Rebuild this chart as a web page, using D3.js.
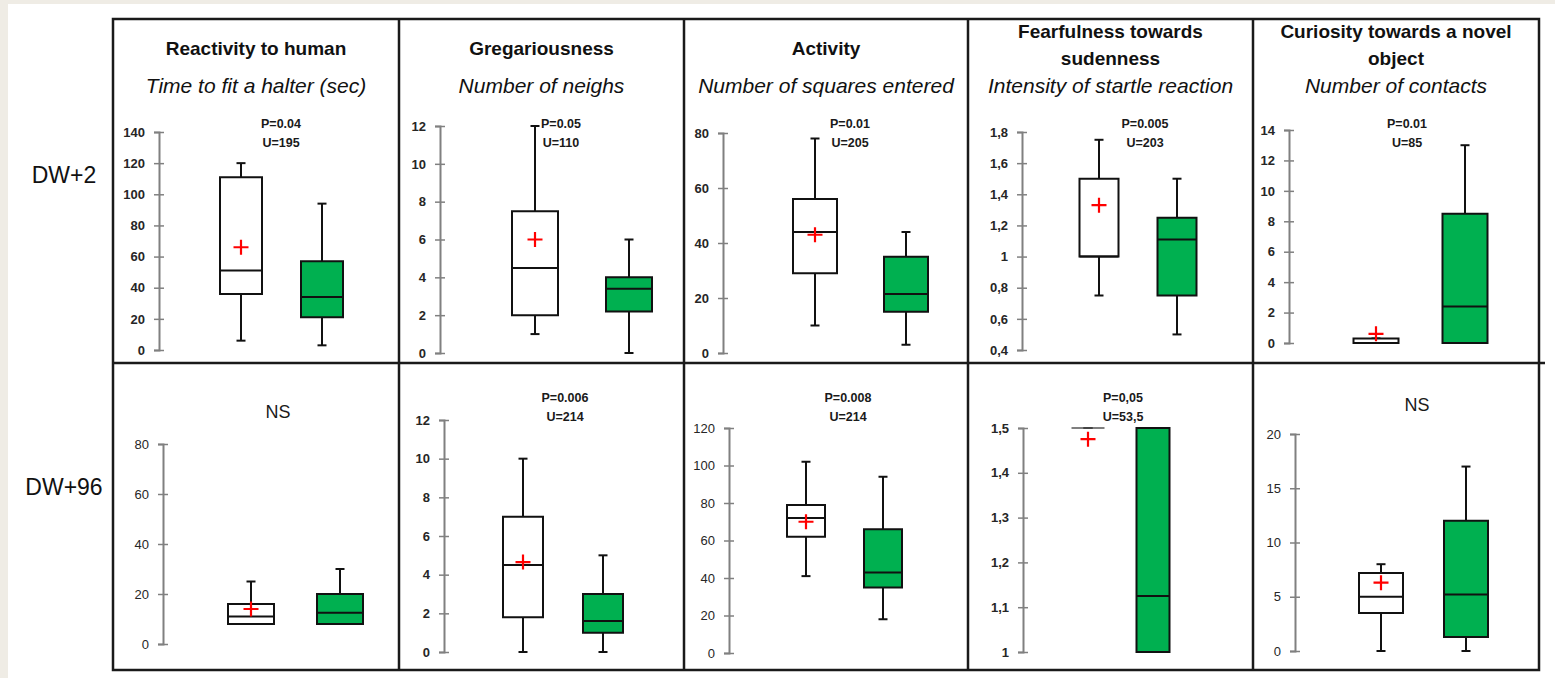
<!DOCTYPE html>
<html>
<head>
<meta charset="utf-8">
<script src="https://cdn.jsdelivr.net/npm/d3@7/dist/d3.min.js"></script>
<style>
  body { margin: 0; background: #efece5; }
  svg { display: block; }
</style>
</head>
<body>
<svg id="chart" width="1555" height="678"></svg>
<script>
// ---- data ----
var rowLabels = ["DW+2", "DW+96"];
var titleLines = [
    ["Reactivity to human"]
    , ["Gregariousness"]
    , ["Activity"]
    , ["Fearfulness towards", "sudenness"]
    , ["Curiosity towards a novel", "object"]
];
var measures = ["Time to fit a halter (sec)", "Number of neighs", "Number of squares entered"
    , "Intensity of startle reaction", "Number of contacts"];

var testsDW2 = [["P=0.04", "U=195"], ["P=0.05", "U=110"], ["P=0.01", "U=205"], ["P=0.005", "U=203"], ["P=0.01", "U=85"]];
var testsDW96 = [["NS"], ["P=0.006", "U=214"], ["P=0.008", "U=214"], ["P=0,05", "U=53,5"], ["NS"]];

var ticksDW2 = [
    [0, 20, 40, 60, 80, 100, 120, 140]
    , [0, 2, 4, 6, 8, 10, 12]
    , [0, 20, 40, 60, 80]
    , [0.4, 0.6, 0.8, 1, 1.2, 1.4, 1.6, 1.8]
    , [0, 2, 4, 6, 8, 10, 12, 14]
];
var ticksDW96 = [
    [0, 20, 40, 60, 80]
    , [0, 2, 4, 6, 8, 10, 12]
    , [0, 20, 40, 60, 80, 100, 120]
    , [1, 1.1, 1.2, 1.3, 1.4, 1.5]
    , [0, 5, 10, 15, 20]
];

// [min, q1, median, q3, max, mean]
var controlDW2 = [
    [6, 36, 51, 111, 120, 66]
    , [1, 2, 4.5, 7.5, 12, 6]
    , [10, 29, 44, 56, 78, 43]
    , [0.75, 1, 1, 1.5, 1.75, 1.33]
    , [0, 0, 0, 0.3, 0.3, 0.6]
];
// [min, q1, median, q3, max]
var treatedDW2 = [
    [3, 21, 34, 57, 94]
    , [0, 2.2, 3.4, 4, 6]
    , [3, 15, 21.5, 35, 44]
    , [0.5, 0.75, 1.11, 1.25, 1.5]
    , [0, 0, 2.4, 8.5, 13]
];
var controlDW96 = [
    [8, 8, 11, 16, 25, 14]
    , [0, 1.8, 4.5, 7, 10, 4.65]
    , [41, 62, 72, 79, 102, 70]
    , [1.5, 1.5, 1.5, 1.5, 1.5, 1.475]
    , [0, 3.5, 5, 7.2, 8, 6.3]
];
var treatedDW96 = [
    [8, 8, 12.5, 20, 30]
    , [0, 1, 1.6, 3, 5]
    , [18, 35, 43, 66, 94]
    , [1, 1, 1.125, 1.5, 1.5]
    , [0, 1.3, 5.2, 12, 17]
];

// ---- layout (pixels) ----
var colX = [113, 399, 684, 968, 1253, 1539];
var rowY = [19, 363, 670];
// axis / box centres / test text are offsets from the panel's left edge
var layoutDW2 = [
    {axis: 46, c: [128, 209], w: 42, y: [132, 350], tx: 168, ty: [123, 142], bold: true}
    , {axis: 41, c: [136, 230], w: 46, y: [126, 353], tx: 162, ty: [123, 142], bold: true}
    , {axis: 39, c: [131, 222], w: 44, y: [133, 353], tx: 166, ty: [123, 142], bold: true}
    , {axis: 54, c: [131, 209], w: 39, y: [132, 350], tx: 177, ty: [123, 142], bold: true}
    , {axis: 36, c: [123, 212], w: 45, y: [130, 343], tx: 154, ty: [123, 142], bold: true}
];
var layoutDW96 = [
    {axis: 50, c: [138, 227], w: 46, y: [444, 644], tx: 165, ty: [412], bold: false}
    , {axis: 45, c: [124, 204], w: 40, y: [420, 652], tx: 166, ty: [397, 416], bold: true}
    , {axis: 45, c: [122, 199], w: 38, y: [428, 653], tx: 164, ty: [397, 416], bold: false}
    , {axis: 55, c: [120, 185], w: 33, y: [428, 652], tx: 155, ty: [397, 416], bold: true}
    , {axis: 42, c: [128, 213], w: 44, y: [434, 651], tx: 164, ty: [405], bold: false}
];

var font = "'Liberation Sans', Arial, sans-serif";
var green = '#00b050', ink = '#111';

var svg = d3.select('#chart');
svg.append('rect').attr('x', 8).attr('y', 4).attr('width', 1547).attr('height', 674).style('fill', '#fff');

// row labels
svg.selectAll('.rowLabel').data(rowLabels).enter().append('text')
    .attr('x', 64).attr('y', function (d, i) { return i == 0 ? 183 : 495; })
    .style('text-anchor', 'middle').style('font-family', font).style('font-size', '23px').style('fill', '#111')
    .text(function (d) { return d; });

// titles
titleLines.forEach(function (lines, i) {
    var cx = (colX[i] + colX[i + 1]) / 2;
    lines.forEach(function (t, j) {
        svg.append('text').attr('x', cx).attr('y', lines.length == 1 ? 55 : 38 + 27 * j)
            .style('text-anchor', 'middle').style('font-family', font).style('font-weight', 'bold')
            .style('font-size', '19px').style('fill', '#111').text(t);
    });
    svg.append('text').attr('x', cx).attr('y', 93)
        .style('text-anchor', 'middle').style('font-family', font).style('font-style', 'italic')
        .style('font-size', '21px').style('fill', '#111').text(measures[i]);
});

function fmt(d) { return String(d).replace('.', ','); }

function drawPanel(i, ticks, ctrl, trt, tests, lay) {
    var left = colX[i];
    var g = svg.append('g').attr('transform', 'translate(' + left + ',0)');
    var y = d3.scaleLinear().domain([ticks[0], ticks[ticks.length - 1]]).range([lay.y[1], lay.y[0]]);
    var x = d3.scalePoint().domain(['control', 'treated']).range(lay.c);
    var useComma = ticks.some(function (t) { return t % 1 != 0; });

    var axis = d3.axisLeft(y).tickValues(ticks).tickSizeOuter(0).tickSize(5).tickPadding(9)
        .tickFormat(useComma ? fmt : d3.format('d'));
    var ax = g.append('g').attr('transform', 'translate(' + lay.axis + ',0)').call(axis);
    ax.select('.domain').style('stroke', '#808080').style('stroke-width', 2);
    ax.selectAll('.tick line').attr('x1', -5).attr('x2', 5).style('stroke', '#808080').style('stroke-width', 1.5);
    ax.selectAll('.tick text').style('font-family', font).style('font-size', '13px')
        .style('font-weight', lay.bold ? 'bold' : 'normal').style('fill', '#262626');

    var boxes = [{key: 'control', v: ctrl, fill: '#fff'}, {key: 'treated', v: trt, fill: green}];
    boxes.forEach(function (b) {
        var cx = x(b.key), hw = lay.w / 2, v = b.v;
        var flat = v[1] == v[3];
        var bg = g.append('g');
        // whisker
        bg.append('line').attr('x1', cx).attr('x2', cx).attr('y1', y(v[0])).attr('y2', y(v[4]))
            .style('stroke', ink).style('stroke-width', 2);
        [v[0], v[4]].forEach(function (c) {
            bg.append('line').attr('x1', cx - 4.5).attr('x2', cx + 4.5).attr('y1', y(c)).attr('y2', y(c))
                .style('stroke', ink).style('stroke-width', 2);
        });
        // box
        bg.append('path')
            .attr('d', 'M' + (cx - hw) + ',' + y(v[3]) + 'H' + (cx + hw) + 'V' + y(v[1]) + 'H' + (cx - hw) + 'Z')
            .style('fill', b.fill).style('stroke', flat ? '#555' : ink).style('stroke-width', flat ? 1.5 : 2);
        // median
        if (!flat) {
            bg.append('line').attr('x1', cx - hw).attr('x2', cx + hw).attr('y1', y(v[2])).attr('y2', y(v[2]))
                .style('stroke', ink).style('stroke-width', 2);
        }
        // mean
        if (v.length > 5) {
            var my = y(v[5]);
            bg.append('path').attr('d', 'M' + (cx - 7.5) + ',' + my + 'H' + (cx + 7.5) + 'M' + cx + ',' + (my - 7.5) + 'V' + (my + 7.5))
                .style('stroke', '#ff0000').style('stroke-width', 2.2).style('fill', 'none');
        }
    });

    // test result
    var ns = tests.length == 1;
    tests.forEach(function (t, j) {
        g.append('text').attr('x', lay.tx).attr('y', lay.ty[j] + (ns ? 6 : 4.5))
            .style('text-anchor', 'middle').style('font-family', font)
            .style('font-weight', ns ? 'normal' : 'bold').style('font-size', ns ? '18px' : '12.5px')
            .style('fill', '#1a1a1a').text(t);
    });
}

for (var i = 0; i < 5; i++) {
    drawPanel(i, ticksDW2[i], controlDW2[i], treatedDW2[i], testsDW2[i], layoutDW2[i]);
    drawPanel(i, ticksDW96[i], controlDW96[i], treatedDW96[i], testsDW96[i], layoutDW96[i]);
}

// panel frame
var frame = svg.append('g').style('stroke', '#1a1a1a').style('stroke-width', 2.5).style('fill', 'none');
frame.append('rect').attr('x', colX[0]).attr('y', rowY[0]).attr('width', colX[5] - colX[0]).attr('height', rowY[2] - rowY[0]);
frame.append('line').attr('x1', colX[0]).attr('x2', 1545).attr('y1', rowY[1]).attr('y2', rowY[1]);
frame.selectAll('.col').data(colX.slice(1, 5)).enter().append('line')
    .attr('x1', function (d) { return d; }).attr('x2', function (d) { return d; })
    .attr('y1', rowY[0]).attr('y2', rowY[2]);
</script>
</body>
</html>
